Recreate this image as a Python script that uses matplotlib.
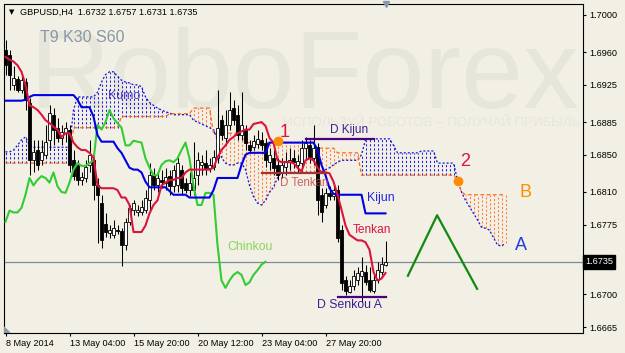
import matplotlib
matplotlib.use("Agg")
import matplotlib.pyplot as plt
import matplotlib.transforms as mtransforms
import numpy as np

plt.rcParams['font.family'] = ['Liberation Sans', 'DejaVu Sans']

# ---------------- data (GBPUSD H4) ----------------
opens = [1.6962, 1.6957, 1.6925, 1.6931, 1.6919, 1.6928, 1.6906, 1.6844, 1.6855, 1.6844,
         1.6850, 1.6866, 1.6893, 1.6879, 1.6868, 1.6873, 1.6877, 1.6844, 1.6839, 1.6823,
         1.6825, 1.6839, 1.6844, 1.6817, 1.6798, 1.6776, 1.6766, 1.6764, 1.6769, 1.6768,
         1.6753, 1.6778, 1.6791, 1.6788, 1.6788, 1.6791, 1.6801, 1.6828, 1.6817, 1.6823,
         1.6820, 1.6827, 1.6816, 1.6817, 1.6834, 1.6820, 1.6812, 1.6812, 1.6828, 1.6839,
         1.6841, 1.6836, 1.6837, 1.6846, 1.6887, 1.6868, 1.6882, 1.6900, 1.6893, 1.6871,
         1.6877, 1.6860, 1.6858, 1.6861, 1.6866, 1.6863, 1.6842, 1.6846, 1.6839, 1.6831,
         1.6837, 1.6842, 1.6846, 1.6839, 1.6841, 1.6857, 1.6860, 1.6846, 1.6858, 1.6807,
         1.6796, 1.6809, 1.6806, 1.6812, 1.6769, 1.6715, 1.6703, 1.6709, 1.6715, 1.6720,
         1.6724, 1.6715, 1.6704, 1.6715, 1.6724, 1.6732]
highs = [1.6973, 1.6962, 1.6945, 1.6934, 1.6934, 1.6932, 1.6911, 1.6866, 1.6866, 1.6866,
         1.6882, 1.6903, 1.6900, 1.6889, 1.6882, 1.6885, 1.6882, 1.6855, 1.6844, 1.6831,
         1.6844, 1.6866, 1.6855, 1.6825, 1.6807, 1.6787, 1.6774, 1.6780, 1.6774, 1.6771,
         1.6782, 1.6796, 1.6801, 1.6796, 1.6801, 1.6812, 1.6841, 1.6836, 1.6831, 1.6834,
         1.6836, 1.6834, 1.6839, 1.6847, 1.6839, 1.6825, 1.6831, 1.6864, 1.6853, 1.6850,
         1.6855, 1.6846, 1.6855, 1.6919, 1.6893, 1.6898, 1.6917, 1.6909, 1.6903, 1.6917,
         1.6882, 1.6866, 1.6871, 1.6877, 1.6874, 1.6868, 1.6857, 1.6855, 1.6846, 1.6846,
         1.6853, 1.6857, 1.6855, 1.6850, 1.6866, 1.6869, 1.6866, 1.6882, 1.6863, 1.6814,
         1.6814, 1.6816, 1.6817, 1.6817, 1.6774, 1.6720, 1.6715, 1.6726, 1.6729, 1.6740,
         1.6732, 1.6729, 1.6721, 1.6735, 1.6740, 1.6757]
lows = [1.6936, 1.6919, 1.6919, 1.6917, 1.6916, 1.6898, 1.6828, 1.6831, 1.6834, 1.6839,
        1.6846, 1.6855, 1.6860, 1.6864, 1.6860, 1.6864, 1.6831, 1.6823, 1.6817, 1.6817,
        1.6821, 1.6831, 1.6801, 1.6755, 1.6750, 1.6762, 1.6761, 1.6761, 1.6765, 1.6730,
        1.6748, 1.6774, 1.6785, 1.6784, 1.6785, 1.6787, 1.6788, 1.6812, 1.6810, 1.6814,
        1.6812, 1.6807, 1.6810, 1.6810, 1.6807, 1.6809, 1.6806, 1.6807, 1.6817, 1.6828,
        1.6828, 1.6831, 1.6834, 1.6841, 1.6866, 1.6860, 1.6877, 1.6882, 1.6866, 1.6866,
        1.6855, 1.6852, 1.6855, 1.6857, 1.6855, 1.6837, 1.6834, 1.6828, 1.6823, 1.6825,
        1.6828, 1.6834, 1.6836, 1.6831, 1.6836, 1.6844, 1.6841, 1.6839, 1.6785, 1.6778,
        1.6793, 1.6801, 1.6801, 1.6756, 1.6705, 1.6699, 1.6702, 1.6705, 1.6710, 1.6692,
        1.6710, 1.6703, 1.6702, 1.6712, 1.6721, 1.6731]
closes = [1.6946, 1.6936, 1.6932, 1.6919, 1.6930, 1.6909, 1.6844, 1.6853, 1.6839, 1.6853,
          1.6864, 1.6895, 1.6877, 1.6868, 1.6874, 1.6879, 1.6839, 1.6827, 1.6823, 1.6826,
          1.6837, 1.6850, 1.6817, 1.6807, 1.6758, 1.6767, 1.6769, 1.6771, 1.6768, 1.6753,
          1.6778, 1.6793, 1.6798, 1.6791, 1.6794, 1.6804, 1.6828, 1.6817, 1.6825, 1.6821,
          1.6826, 1.6816, 1.6834, 1.6841, 1.6814, 1.6812, 1.6820, 1.6825, 1.6844, 1.6842,
          1.6836, 1.6839, 1.6847, 1.6879, 1.6871, 1.6882, 1.6898, 1.6887, 1.6871, 1.6882,
          1.6863, 1.6855, 1.6865, 1.6867, 1.6860, 1.6844, 1.6850, 1.6836, 1.6828, 1.6839,
          1.6843, 1.6844, 1.6842, 1.6843, 1.6857, 1.6863, 1.6847, 1.6857, 1.6801, 1.6788,
          1.6809, 1.6806, 1.6812, 1.6761, 1.6712, 1.6704, 1.6709, 1.6720, 1.6723, 1.6725,
          1.6713, 1.6705, 1.6715, 1.6726, 1.6733, 1.6735]

tenkan = [1.6955, 1.6952, 1.6950, 1.6946, 1.6939, 1.6925, 1.6903, 1.6901, 1.6898, 1.6893,
          1.6887, 1.6884, 1.6880, 1.6877, 1.6869, 1.6873, 1.6873, 1.6863, 1.6858, 1.6855,
          1.6855, 1.6852, 1.6847, 1.6817, 1.6814, 1.6814, 1.6814, 1.6814, 1.6812, 1.6804,
          1.6804, 1.6796, 1.6767, 1.6767, 1.6767, 1.6774, 1.6787, 1.6796, 1.6801, 1.6817,
          1.6820, 1.6823, 1.6823, 1.6825, 1.6825, 1.6831, 1.6834, 1.6834, 1.6834, 1.6834,
          1.6834, 1.6834, 1.6836, 1.6847, 1.6855, 1.6860, 1.6866, 1.6869, 1.6873, 1.6875,
          1.6877, 1.6877, 1.6883, 1.6884, 1.6885, 1.6881, 1.6868, 1.6863, 1.6844, 1.6842,
          1.6842, 1.6842, 1.6841, 1.6836, 1.6832, 1.6844, 1.6846, 1.6844, 1.6836, 1.6831,
          1.6831, 1.6830, 1.6821, 1.6807, 1.6791, 1.6774, 1.6764, 1.6761, 1.6758, 1.6758,
          1.6756, 1.6748, 1.6724, 1.6715, 1.6717, 1.6723]
kijun = [1.6908, 1.6908, 1.6908, 1.6908, 1.6908, 1.6909, 1.6912, 1.6914, 1.6914, 1.6914,
         1.6914, 1.6914, 1.6914, 1.6914, 1.6914, 1.6914, 1.6914, 1.6914, 1.6909, 1.6901,
         1.6901, 1.6901, 1.6891, 1.6871, 1.6864, 1.6864, 1.6864, 1.6864, 1.6857, 1.6852,
         1.6844, 1.6836, 1.6834, 1.6834, 1.6831, 1.6821, 1.6815, 1.6815, 1.6815, 1.6815,
         1.6815, 1.6811, 1.6807, 1.6807, 1.6807, 1.6807, 1.6804, 1.6804, 1.6804, 1.6804,
         1.6804, 1.6804, 1.6812, 1.6825, 1.6825, 1.6825, 1.6825, 1.6825, 1.6825, 1.6839,
         1.6850, 1.6852, 1.6852, 1.6852, 1.6852, 1.6852, 1.6863, 1.6863, 1.6863, 1.6863,
         1.6863, 1.6863, 1.6863, 1.6863, 1.6863, 1.6863, 1.6863, 1.6863, 1.6855, 1.6839,
         1.6828, 1.6814, 1.6808, 1.6807, 1.6807, 1.6807, 1.6807, 1.6807, 1.6807, 1.6807,
         1.6787, 1.6787, 1.6787, 1.6787, 1.6787, 1.6787]
chinkou = [1.6778, 1.6790, 1.6788, 1.6788, 1.6793, 1.6807, 1.6825, 1.6817, 1.6823, 1.6827,
           1.6825, 1.6820, 1.6831, 1.6816, 1.6810, 1.6809, 1.6820, 1.6834, 1.6841, 1.6838,
           1.6838, 1.6841, 1.6844, 1.6882, 1.6877, 1.6885, 1.6898, 1.6889, 1.6884, 1.6879,
           1.6860, 1.6860, 1.6865, 1.6864, 1.6863, 1.6846, 1.6836, 1.6828, 1.6828, 1.6839,
           1.6843, 1.6844, 1.6842, 1.6846, 1.6855, 1.6863, 1.6846, 1.6817, 1.6796, 1.6796,
           1.6809, 1.6809, 1.6807, 1.6753, 1.6715, 1.6707, 1.6715, 1.6721, 1.6724, 1.6721,
           1.6710, 1.6713, 1.6721, 1.6726, 1.6732, 1.6735]
senkou_a = [1.6853, 1.6853, 1.6855, 1.6860, 1.6866, 1.6869, 1.6860, 1.6858, 1.6858, 1.6858,
            1.6858, 1.6858, 1.6858, 1.6858, 1.6858, 1.6858, 1.6858, 1.6898, 1.6912, 1.6912,
            1.6912, 1.6912, 1.6912, 1.6917, 1.6928, 1.6936, 1.6939, 1.6939, 1.6934, 1.6930,
            1.6928, 1.6927, 1.6925, 1.6925, 1.6923, 1.6912, 1.6906, 1.6903, 1.6900, 1.6898,
            1.6896, 1.6895, 1.6893, 1.6893, 1.6893, 1.6893, 1.6893, 1.6887, 1.6885, 1.6883,
            1.6881, 1.6879, 1.6877, 1.6866, 1.6847, 1.6841, 1.6839, 1.6839, 1.6841, 1.6841,
            1.6834, 1.6817, 1.6805, 1.6798, 1.6796, 1.6801, 1.6810, 1.6815, 1.6825, 1.6831,
            1.6831, 1.6831, 1.6831, 1.6831, 1.6831, 1.6831, 1.6831, 1.6831, 1.6831, 1.6831,
            1.6834, 1.6836, 1.6839, 1.6842, 1.6844, 1.6844, 1.6844, 1.6844, 1.6844, 1.6850,
            1.6866, 1.6867, 1.6867, 1.6867, 1.6867, 1.6867, 1.6867, 1.6860, 1.6852, 1.6852,
            1.6852, 1.6852, 1.6852, 1.6852, 1.6854, 1.6854, 1.6854, 1.6854, 1.6841, 1.6841,
            1.6841, 1.6841, 1.6841, 1.6823, 1.6810, 1.6801, 1.6794, 1.6787, 1.6780, 1.6772,
            1.6771, 1.6769, 1.6761, 1.6753, 1.6752, 1.6755]
senkou_b = [1.6841, 1.6841, 1.6841, 1.6841, 1.6841, 1.6841, 1.6841, 1.6841, 1.6841, 1.6841,
            1.6841, 1.6841, 1.6841, 1.6841, 1.6841, 1.6841, 1.6841, 1.6879, 1.6879, 1.6879,
            1.6879, 1.6879, 1.6879, 1.6879, 1.6879, 1.6879, 1.6879, 1.6879, 1.6879, 1.6891,
            1.6891, 1.6891, 1.6891, 1.6891, 1.6891, 1.6891, 1.6891, 1.6891, 1.6891, 1.6891,
            1.6891, 1.6894, 1.6894, 1.6894, 1.6894, 1.6894, 1.6894, 1.6900, 1.6900, 1.6900,
            1.6900, 1.6900, 1.6873, 1.6873, 1.6873, 1.6873, 1.6873, 1.6873, 1.6873, 1.6873,
            1.6863, 1.6863, 1.6863, 1.6863, 1.6863, 1.6863, 1.6863, 1.6863, 1.6863, 1.6863,
            1.6863, 1.6863, 1.6863, 1.6863, 1.6863, 1.6863, 1.6863, 1.6863, 1.6857, 1.6857,
            1.6857, 1.6857, 1.6857, 1.6852, 1.6852, 1.6852, 1.6852, 1.6852, 1.6852, 1.6828,
            1.6828, 1.6828, 1.6828, 1.6828, 1.6828, 1.6828, 1.6828, 1.6828, 1.6828, 1.6828,
            1.6828, 1.6828, 1.6828, 1.6828, 1.6828, 1.6828, 1.6828, 1.6828, 1.6828, 1.6828,
            1.6828, 1.6828, 1.6828, 1.6823, 1.6810, 1.6807, 1.6807, 1.6807, 1.6807, 1.6807,
            1.6807, 1.6807, 1.6807, 1.6807, 1.6807, 1.6807]

date_tick_bars = [0, 16, 32, 48, 64, 80]
date_tick_labels = ['8 May 2014', '13 May 04:00', '15 May 20:00', '20 May 12:00',
                    '23 May 04:00', '27 May 20:00']
price_ticks = [1.7000, 1.6960, 1.6925, 1.6885, 1.6850, 1.6810, 1.6775, 1.6700, 1.6665]
last_price = 1.6735

# analyst marks
d_kijun_level, d_kijun_bars = 1.6867, [75, 92]
d_tenkan_level, d_tenkan_bars = 1.6830, [64, 80]
d_senkou_a_level, d_senkou_a_bars = 1.6697, [83, 95]
signal_bars = [68, 113]
signal_prices = [1.6865, 1.6822]
forecast_bars = [100.6, 107.9, 117.9]
forecast_prices = [1.6720, 1.6785, 1.6706]

# ---------------- figure ----------------
BG = '#F2F0E4'
fig = plt.figure(figsize=(6.25, 3.53), dpi=100, facecolor=BG)
ax = fig.add_axes([4 / 625, 20 / 353, 579 / 625, 329 / 353], facecolor=BG)
ax.set_xlim(-0.375, 144.375)
ax.set_ylim(1.665856, 1.701181)

# watermark
ax.text(305 / 625, 1 - 108 / 353, 'RoboForex', transform=fig.transFigure,
        ha='center', va='baseline', fontsize=80, color='#E7E6DB', zorder=0.1)
ax.text(432 / 625, 1 - 123 / 353, 'ИСПОЛЬЗУЙ РОБОТОВ – ПОЛУЧАЙ ПРИБЫЛЬ',
        transform=fig.transFigure, ha='center', va='center', fontsize=9.5,
        color='#E7E6DB', zorder=0.1)
ax.text(40 / 625, 1 - 37 / 353, 'T9 K30 S60', transform=fig.transFigure,
        ha='left', va='center', fontsize=11.5, color='#8797A8', zorder=0.2)

# current price line
ax.axhline(last_price, color='#7A8A9A', lw=0.9, zorder=0.5)

# kumo
sa = np.array(senkou_a)
sb = np.array(senkou_b)
cb = np.arange(len(sa))
up = sa >= sb
ax.vlines(cb[up], sb[up], sa[up], colors='#1A1AE8', linestyles=(0, (2, 2)), lw=0.75, zorder=1)
ax.vlines(cb[~up], sa[~up], sb[~up], colors='#FF7A3C', linestyles=(0, (2, 2)), lw=0.75, zorder=1)
ax.plot(cb, sa, color='#1010E0', lw=0.9, ls=(0, (1.6, 1.6)), zorder=1.5)
ax.plot(cb, sb, color='#FF6A1A', lw=0.9, ls=(0, (3, 2)), zorder=1.5)

# candles
o = np.array(opens)
c = np.array(closes)
x = np.arange(len(o))
ax.vlines(x, lows, highs, color='black', lw=0.75, zorder=3)
body_bottom = np.minimum(o, c)
body_h = np.maximum(np.abs(c - o), 0.00003)
body_colors = ['white' if cc >= oo else 'black' for oo, cc in zip(o, c)]
ax.bar(x, body_h, bottom=body_bottom, width=0.6, color=body_colors,
       edgecolor='black', linewidth=0.6, zorder=4)

# ichimoku lines
ax.plot(np.arange(len(chinkou)), chinkou, color='#33CC33', lw=1.5, zorder=5)
ax.plot(np.arange(len(kijun)), kijun, color='#0000E6', lw=1.5, zorder=5)
ax.plot(np.arange(len(tenkan)), tenkan, color='#DC143C', lw=1.5, zorder=5)

# analyst levels
ax.plot(d_kijun_bars, [d_kijun_level] * 2, color='#4B0082', lw=1.6, zorder=6)
ax.plot(d_tenkan_bars, [d_tenkan_level] * 2, color='#A5322D', lw=1.6, zorder=6)
ax.plot(d_senkou_a_bars, [d_senkou_a_level] * 2, color='#4B0082', lw=1.6, zorder=6)
ax.plot(signal_bars, signal_prices, 'o', color='#FF8C00', ms=6, mec='#FF8C00', zorder=7)
ax.plot(forecast_bars, forecast_prices, color='#108A10', lw=1.6, zorder=6)

# labels
lab = dict(va='center', ha='left', zorder=8)
ax.text(25.6, 1.6913, 'Kumo', color='#4B3CC8', fontsize=9, **lab)
ax.text(69.9, 1.6874, '1', color='#DC143C', fontsize=13, ha='center', va='center', zorder=8)
ax.text(81.1, 1.6877, 'D Kijun', color='#3C1E96', fontsize=8.5, **lab)
ax.text(68.6, 1.6820, 'D Tenkan', color='#C04848', fontsize=8.3, alpha=0.85, **lab)
ax.text(90.4, 1.6804, 'Kijun', color='#2424E0', fontsize=8.8, **lab)
ax.text(86.9, 1.6769, 'Tenkan', color='#DC143C', fontsize=8.6, **lab)
ax.text(55.4, 1.6751, 'Chinkou', color='#8CD45A', fontsize=8.8, **lab)
ax.text(77.9, 1.6689, 'D Senkou A', color='#3C1E96', fontsize=8.8, **lab)
ax.text(114.9, 1.6843, '2', color='#DC143C', fontsize=13, ha='center', va='center', zorder=8)
ax.text(130.1, 1.6809, 'B', color='#FF8C00', fontsize=13, ha='center', va='center', zorder=8)
ax.text(128.9, 1.6752, 'A', color='#1E3CE0', fontsize=13, ha='center', va='center', zorder=8)

# header
fig.text(9 / 625, 1 - 12 / 353, '▼', fontsize=5, va='center', ha='left',
         family='DejaVu Sans', color='black')
fig.text(20 / 625, 1 - 12 / 353,
         'GBPUSD,H4  %.4f %.4f %.4f %.4f' % (opens[-1], highs[-1], lows[-1], closes[-1]),
         fontsize=6.6, va='center', ha='left', color='black')

# chart-shift markers
ax.plot([len(o) - 1], [1], marker='v', color='#8899AA', ms=5,
        transform=mtransforms.blended_transform_factory(ax.transData, ax.transAxes),
        clip_on=False, zorder=9)
ax.fill([0, 6 / 579, 0], [0, 0, 6 / 329], color='#8899AA', transform=ax.transAxes, zorder=9)

# axes
for s in ax.spines.values():
    s.set_color('black')
    s.set_linewidth(0.8)
ax.yaxis.tick_right()
ax.set_yticks(price_ticks)
ax.set_yticklabels(['%.4f' % p for p in price_ticks])
ax.tick_params(axis='y', direction='out', length=2.5, pad=2, labelsize=6.6,
               colors='black', left=False)
ax.set_xticks(date_tick_bars)
ax.set_xticklabels(date_tick_labels)
for t in ax.get_xticklabels():
    t.set_ha('left')
ax.tick_params(axis='x', direction='out', length=2.5, pad=1.5, labelsize=6.6, colors='black')

ax.text(1 + 2 / 579, last_price, '%.4f' % last_price,
        transform=mtransforms.blended_transform_factory(ax.transAxes, ax.transData),
        ha='left', va='center', fontsize=6.6, color='white', clip_on=False, zorder=10,
        bbox=dict(boxstyle='square,pad=0.25', facecolor='black', edgecolor='black'))

fig.savefig('out.png', dpi=100, facecolor=BG)
